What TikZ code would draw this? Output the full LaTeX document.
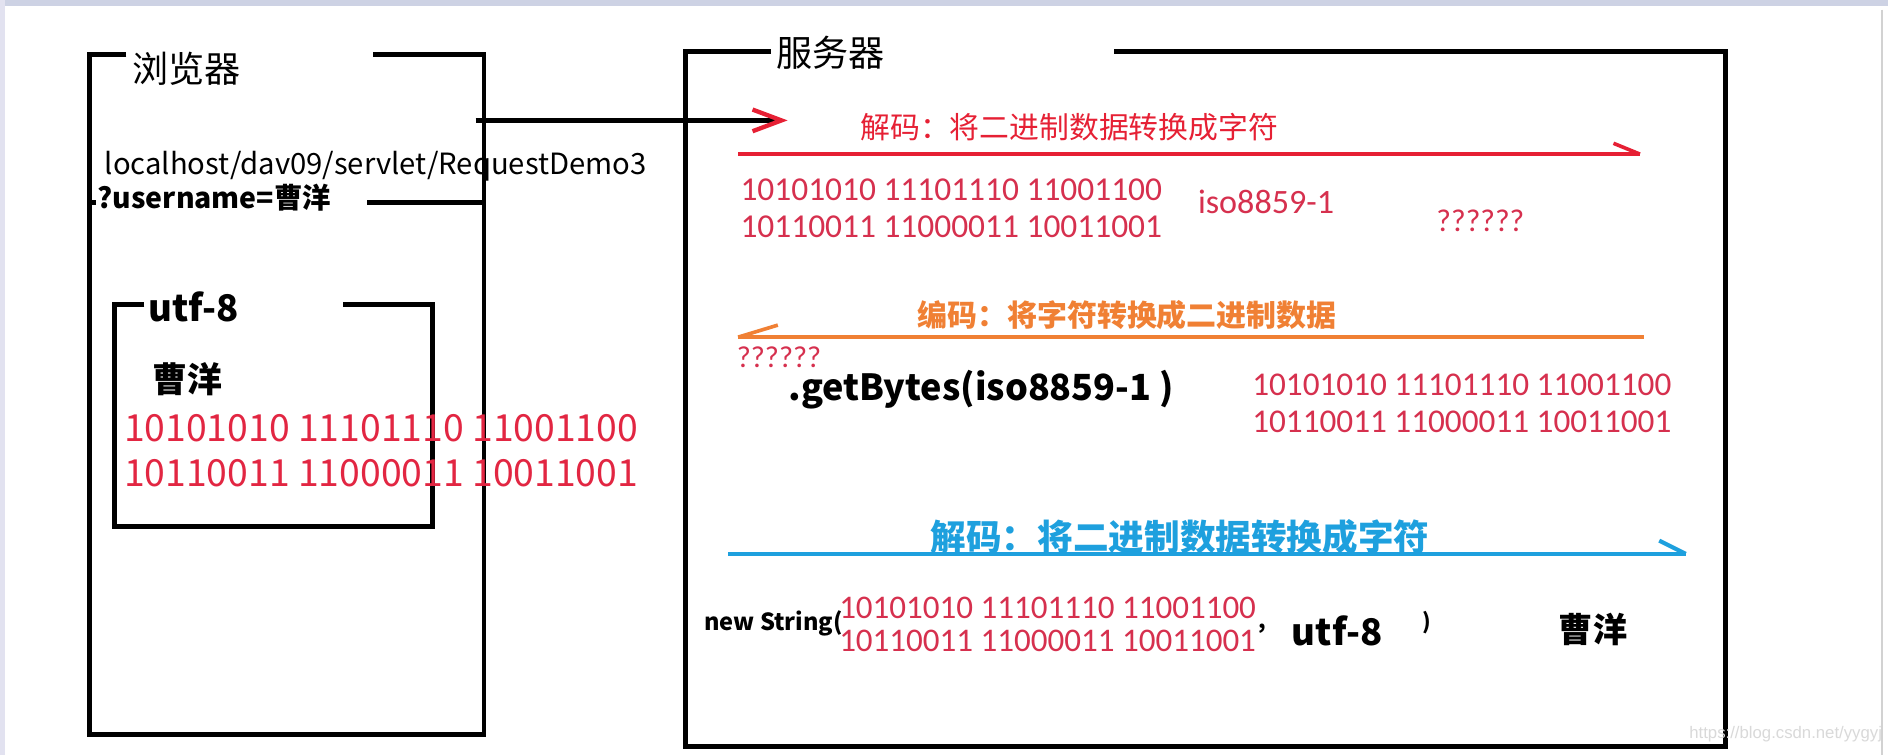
\documentclass[tikz,border=0pt]{standalone}
\usepackage{fontspec}
\usepackage{graphicx}
\setmainfont{Noto Sans CJK SC}
\newfontfamily\carl{Carlito}
\newfontfamily\libsans{Liberation Sans}
\definecolor{redtxt}{RGB}{226,38,66}
\definecolor{redtxtb}{RGB}{214,48,78}
\definecolor{redline}{RGB}{230,32,52}
\definecolor{orangeline}{RGB}{240,128,52}
\definecolor{blueline}{RGB}{30,160,222}
\definecolor{topband}{RGB}{205,210,228}
\definecolor{leftband}{RGB}{226,226,240}
\newcommand\fitw[2]{\resizebox{#1}{!}{#2}}
\newcommand\fs[1]{\fontsize{#1}{#1}\selectfont}
\tikzset{
  frame/.style={line width=2pt, draw=black},
  txt/.style={inner sep=0pt, outer sep=0pt},
  redl/.style={line width=1.5pt, draw=redline},
  orangel/.style={line width=1.5pt, draw=orangeline},
  bluel/.style={line width=1.7pt, draw=blueline},
}
\begin{document}
\begin{tikzpicture}[x=0.5pt,y=-0.5pt]
\useasboundingbox (0,0) rectangle (1568,627);
\fill[white] (0,0) rectangle (1568,627);
\fill[topband] (0,0) rectangle (1568,5);
\fill[leftband] (0,0) rectangle (4,627);
\draw[gray!35, line width=0.8pt] (1563,8) -- (1563,627);

% ---------- browser box ----------
\draw[frame] (105,45) -- (74,45) -- (74,610) -- (402,610) -- (402,45) -- (310,45);
\node[txt] (browser) at (155,57) {\fs{15}浏览器};
\draw[frame] (74,168) -- (80,168);
\draw[frame] (305,168) -- (402,168);
\node[txt, anchor=west] (url) at (87,138) {\fitw{225pt}{\fs{10}localhost/dav09/servlet/RequestDemo3}};
\node[txt, anchor=west] (uname) at (81,164) {\fitw{97pt}{\fs{10}\bfseries ?username=曹洋}};

% inner utf-8 box
\draw[frame] (120,253) -- (95,253) -- (95,437) -- (359,437) -- (359,253) -- (285,253);
\node[txt, anchor=west] (utfa) at (123,255) {\fitw{37.5pt}{\fs{15}\bfseries utf-8}};
\node[txt] (namea) at (156,315) {\fs{14.5}\bfseries 曹洋};
\node[txt, anchor=west, text=redtxt] (bina1) at (103,356) {\fitw{213.5pt}{\fs{15}10101010 11101110 11001100}};
\node[txt, anchor=west, text=redtxt] (bina2) at (103,393) {\fitw{213.5pt}{\fs{15}10110011 11000011 10011001}};

% ---------- server box ----------
\draw[frame] (640,43) -- (569,43) -- (569,620) -- (1433,620) -- (1433,43) -- (925,43);
\node[txt] (server) at (690,44) {\fs{15}服务器};

% request arrow
\coordinate (reqs) at (395,100);
\coordinate (reqe) at (645,100);
\draw[line width=2pt] (reqs) -- (reqe);
\draw[redline, line width=1.8pt, line join=miter] ([xshift=-10pt]reqe |- 0,91) -- ([xshift=2pt]reqe) -- ([xshift=-10pt]reqe |- 0,109);

% red decode line
\coordinate (r1) at (613,128);
\coordinate (r2) at (1362,128);
\draw[redl] (r1) -- (r2);
\draw[redl] (r2) -- (1340,119);
\node[txt, text=redline] (dec1) at (888,106) {\fitw{173.5pt}{\fs{12.4}解码：将二进制数据转换成字符}};
\node[txt, anchor=west, text=redtxtb] (binb1) at (615,158) {\fitw{175pt}{\carl\fs{14}10101010 11101110 11001100}};
\node[txt, anchor=west, text=redtxtb] (binb2) at (615,188) {\fitw{175pt}{\carl\fs{14}10110011 11000011 10011001}};
\node[txt, anchor=west, text=redtxtb] (iso) at (995,168) {\fitw{56.5pt}{\carl\fs{14}iso8859-1}};
\node[txt, anchor=west, text=redtxtb] (qa) at (1193,183) {\fitw{36.5pt}{\carl\fs{12}??????}};

% orange encode line
\coordinate (o1) at (613,280);
\coordinate (o2) at (1365,280);
\draw[orangel] (o2) -- (o1);
\draw[orangel] (o1) -- (646,270);
\node[txt, text=orangeline] (enc) at (936,262) {\fitw{174pt}{\fs{12.4}\bfseries 编码：将字符转换成二进制数据}};
\node[txt, anchor=west, text=redtxtb] (qb) at (612,297) {\fitw{35pt}{\carl\fs{11}??????}};
\node[txt, anchor=west] (getb) at (655,324) {\fitw{160pt}{\fs{13.5}\bfseries .getBytes(iso8859-1 )}};
\node[txt, anchor=west, text=redtxtb] (binc1) at (1040,320) {\fitw{174pt}{\carl\fs{14}10101010 11101110 11001100}};
\node[txt, anchor=west, text=redtxtb] (binc2) at (1040,350) {\fitw{174pt}{\carl\fs{14}10110011 11000011 10011001}};

% blue decode line
\coordinate (b1) at (605,460);
\coordinate (b2) at (1400,460);
\draw[bluel] (b1) -- (b2);
\draw[bluel] (b2) -- (1378,449);
\node[txt, text=blueline] (dec2) at (980,446) {\fitw{207pt}{\fs{14.8}\bfseries 解码：将二进制数据转换成字符}};
\node[txt, anchor=west] (news) at (585,518) {\fitw{57.5pt}{\fs{9}\bfseries new String(}};
\node[txt, anchor=west, text=redtxtb] (bind1) at (697,505) {\fitw{173pt}{\carl\fs{14}10101010 11101110 11001100}};
\node[txt, anchor=west, text=redtxtb] (bind2) at (697,532) {\fitw{173pt}{\carl\fs{14}10110011 11000011 10011001}};
\node[txt] (comma) at (1048,522) {\fs{9}\bfseries ,};
\node[txt, anchor=west] (utfb) at (1073,524) {\fitw{37.5pt}{\fs{15}\bfseries utf-8}};
\node[txt] (paren) at (1185,517) {\fs{9}\bfseries )};
\node[txt] (nameb) at (1323,523) {\fs{14.2}\bfseries 曹洋};

% watermark
\node[txt, anchor=west, text=gray!30] (wm) at (1403,610) {\fitw{80pt}{\libsans\fs{8}https://blog.csdn.net/yygyj}};
\end{tikzpicture}
\end{document}
